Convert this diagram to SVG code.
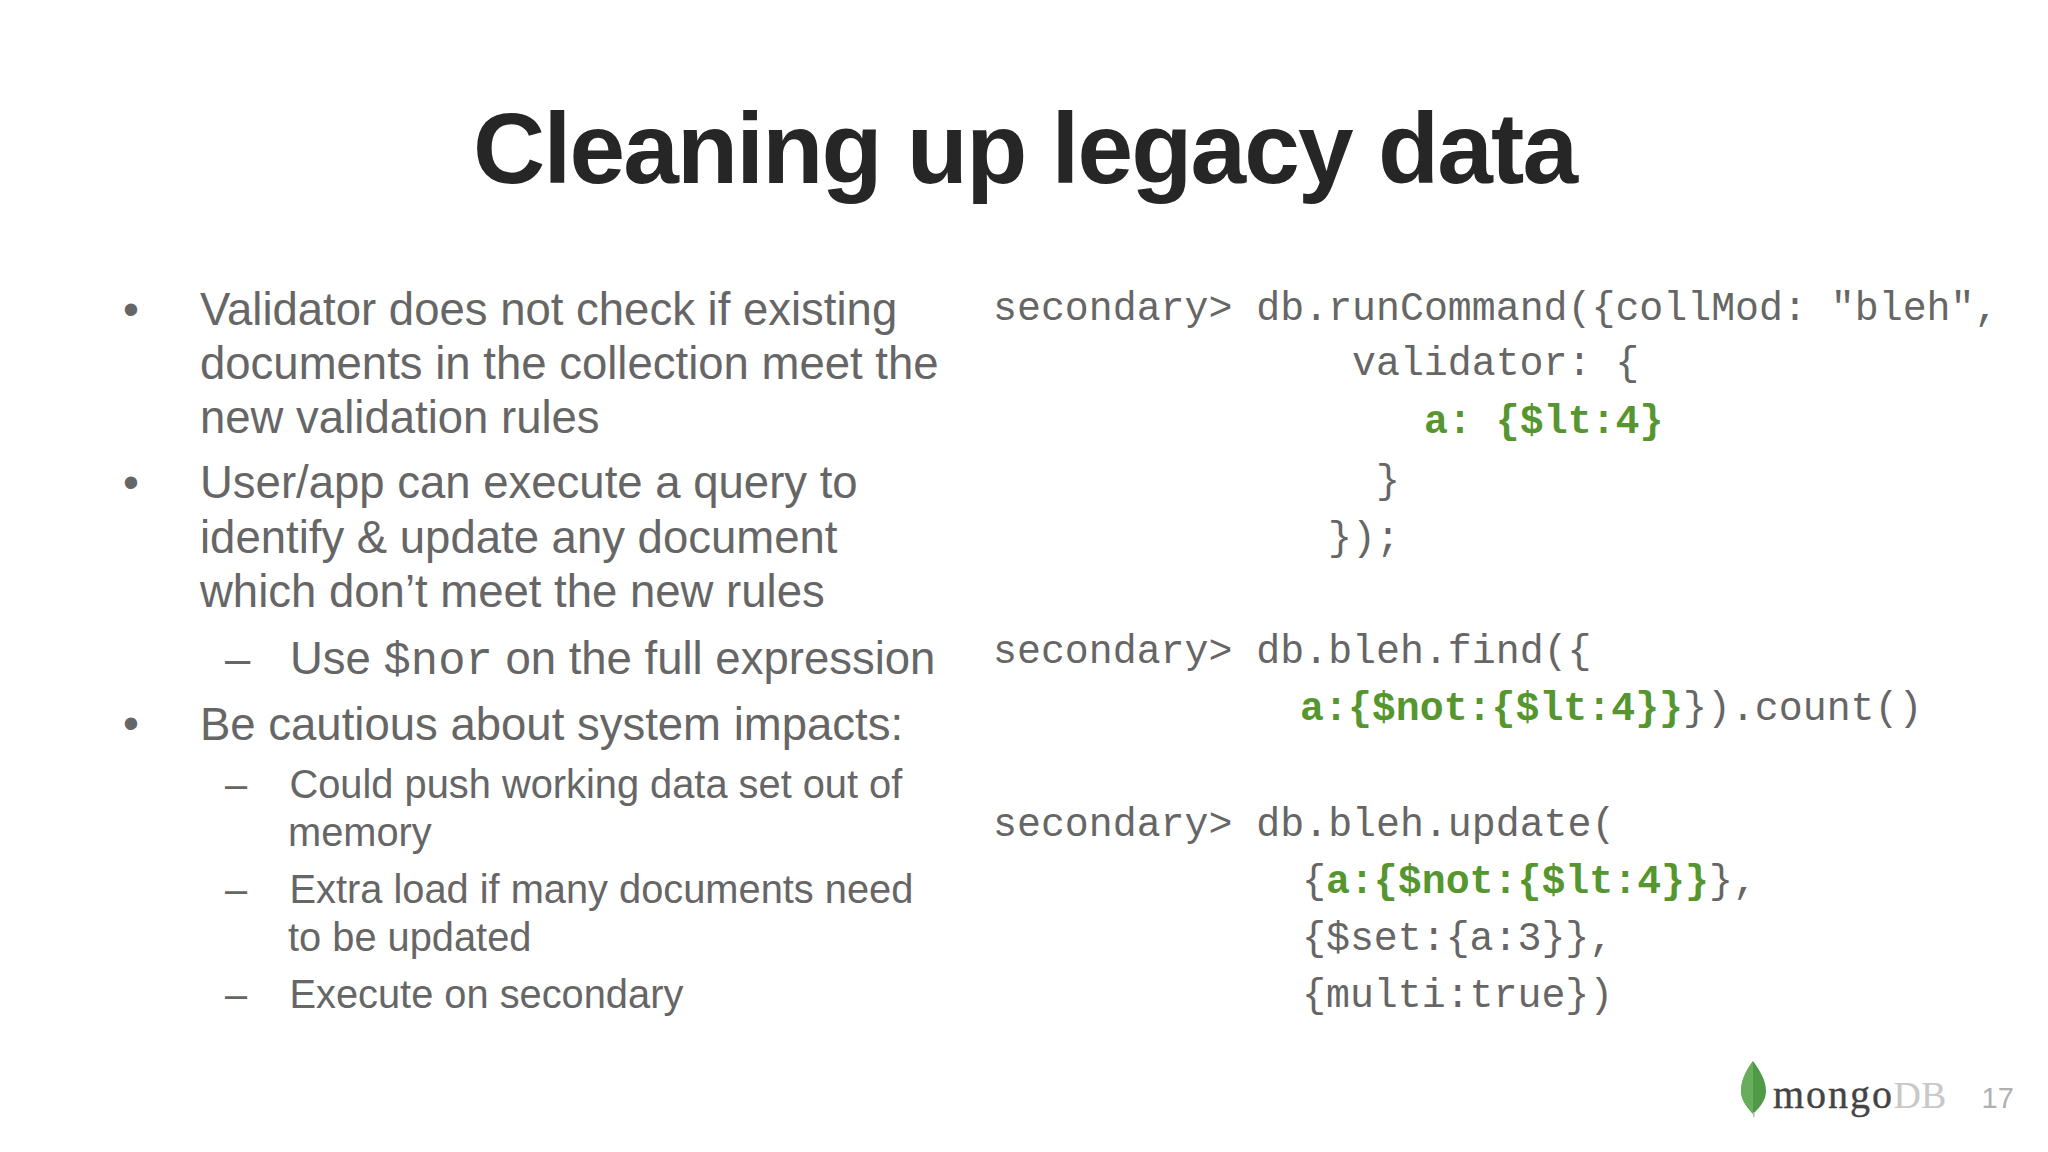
<svg xmlns="http://www.w3.org/2000/svg" width="2048" height="1152" viewBox="0 0 2048 1152">
<style>
text{white-space:pre}
.t{font-family:"Liberation Sans",Arial,sans-serif;font-weight:700;font-size:100px;letter-spacing:-1.8px;fill:#262626}
.b{font-family:"Liberation Sans",Arial,sans-serif;font-size:45.5px;fill:#666}
.s{font-family:"Liberation Sans",Arial,sans-serif;font-size:39.8px;fill:#666}
.m{font-family:"Liberation Mono",monospace;font-size:39.9px;fill:#666}
.g{font-family:"Liberation Mono",monospace;font-size:39.9px;fill:#55962e;font-weight:700}
</style>
<rect width="2048" height="1152" fill="#fff"/>
<g id="title"><text class="t" x="473" y="183">Cleaning up legacy data</text></g>
<g id="bullets">
<text class="b" x="123" y="325">•</text>
<text class="b" x="200" y="325">Validator does not check if existing</text>
<text class="b" x="200" y="379">documents in the collection meet the</text>
<text class="b" x="200" y="433">new validation rules</text>
<text class="b" x="123" y="498">•</text>
<text class="b" x="200" y="498">User/app can execute a query to</text>
<text class="b" x="200" y="553">identify &amp; update any document</text>
<text class="b" x="200" y="607">which don’t meet the new rules</text>
<text class="b" x="225" y="674">–</text>
<text class="b" x="290" y="674">Use <tspan font-family="Liberation Mono" font-size="45.5">$nor</tspan> on the full expression</text>
<text class="b" x="123" y="739">•</text>
<text class="b" x="200" y="740">Be cautious about system impacts:</text>
<text class="s" x="225" y="798">–</text>
<text class="s" x="289.500" y="798">Could push working data set out of</text>
<text class="s" x="288" y="846">memory</text>
<text class="s" x="225" y="903">–</text>
<text class="s" x="289.500" y="903">Extra load if many documents need</text>
<text class="s" x="288" y="951">to be updated</text>
<text class="s" x="225" y="1008">–</text>
<text class="s" x="289.500" y="1008">Execute on secondary</text>
</g>
<g id="code">
<text class="m" x="993" y="320">secondary&gt; db.runCommand({collMod: "bleh",</text>
<text class="m" x="1352" y="375">validator: {</text>
<text class="g" x="1424" y="433">a: {$lt:4}</text>
<text class="m" x="1376" y="493">}</text>
<text class="m" x="1328" y="550">});</text>
<text class="m" x="993" y="663">secondary&gt; db.bleh.find({</text>
<text class="g" x="1300" y="720">a:{$not:{$lt:4}}</text>
<text class="m" x="1683" y="720">}).count()</text>
<text class="m" x="993" y="836">secondary&gt; db.bleh.update(</text>
<text class="m" x="1302" y="893">{<tspan class="g">a:{$not:{$lt:4}}</tspan>},</text>
<text class="m" x="1302" y="950">{$set:{a:3}},</text>
<text class="m" x="1302" y="1007">{multi:true})</text>
</g>
<g id="logo">
<path d="M1753 1061C1745 1072 1741 1081 1741 1091C1741 1101 1748 1108 1753 1114C1759 1108 1766 1101 1766 1091C1766 1081 1761 1072 1753 1061Z" fill="#4e9a47"/>
<path d="M1753 1061C1745 1072 1741 1081 1741 1091C1741 1101 1748 1108 1753 1114Z" fill="#68ad5c"/>
<rect x="1753" y="1112" width="1.6" height="5" fill="#b5bdb0"/>
<text x="1773" y="1108" font-family="Liberation Serif,serif" font-size="40" fill="#444" stroke="#444" stroke-width=".4" letter-spacing="2">mongo</text>
<text x="1893.500" y="1108" font-family="Liberation Serif,serif" font-size="38" fill="#c8c8c8">DB</text>
</g>
<g id="page"><text x="1981.500" y="1108" font-family="Liberation Sans,sans-serif" font-size="29" fill="#b0b0b0">17</text></g>
</svg>
